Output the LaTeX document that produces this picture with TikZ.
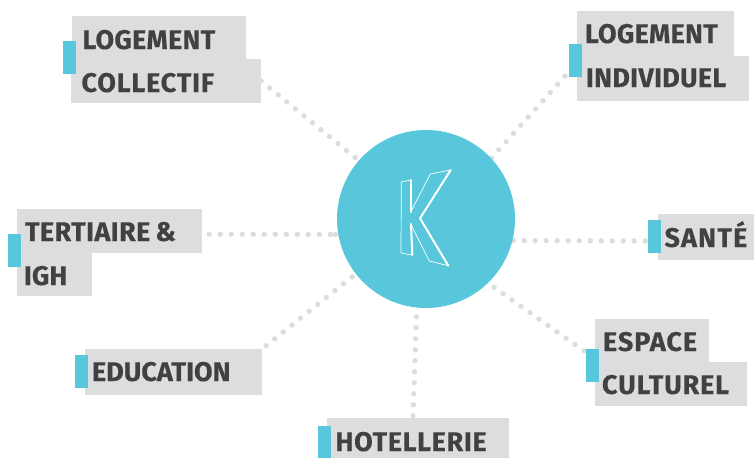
\documentclass[tikz,border=0pt]{standalone}
\usepackage{fontspec}
\setmainfont{Fira Sans}[BoldFeatures={FakeBold=0.2}]
\usetikzlibrary{backgrounds}
\definecolor{teal1}{HTML}{58C7DB}
\definecolor{grey1}{HTML}{DCDDDF}
\definecolor{ink}{HTML}{414042}
\newcommand{\spc}[2]{{\addfontfeature{LetterSpace=#1}#2}}
\tikzset{
  lab/.style={fill=grey1,text=ink,font=\fontsize{27}{27}\selectfont\bfseries,inner ysep=0pt,align=left,text depth=0pt},
  tabn/.style={fill=teal1,minimum width=13pt,minimum height=33pt,inner sep=0pt,outer sep=0pt},
  hubn/.style={circle,fill=teal1,minimum size=178pt,inner sep=0pt,outer sep=0pt},
  dotline/.style={draw=grey1,line width=5.4pt,line cap=round,dash pattern=on 0.01pt off 11pt,dash phase=#1},
  kthick/.style={draw=white,line width=2pt,line cap=round,line join=round},
  kthin/.style={draw=white,line width=0.7pt,line join=round}
}
\begin{document}
\begin{tikzpicture}[x=1pt,y=-1pt]
\useasboundingbox (0,0) rectangle (754,458);
\node[hubn] (hub) at (426,219) {};
% K mark
\draw[kthick] (450.7,170) -- (420,218.3) -- (448.3,265.7);
\draw[kthick] (410.7,180) -- (410.7,212);
\draw[kthick] (411,224) -- (412.3,255);
\draw[kthin] (450.7,170) -- (430.3,174) -- (410.7,212);
\draw[kthin] (410.7,180) -- (401.3,182) -- (401,253) -- (412.3,255);
\draw[kthin] (410.7,224) -- (429.3,261) -- (448.3,265.7);
% labels
\node[lab,minimum width=174pt,minimum height=43pt,inner xsep=10.5pt,text width=153pt,text height=23pt] (lc1) at (159,37.5) {\spc{1}{LOGEMENT}};
\node[lab,minimum width=190pt,minimum height=44pt,inner xsep=10.5pt,text width=169pt,text height=22pt] (lc2) at (166,81) {\spc{3}{COLLECTIF}};
\node[tabn] (lctab) at (69.5,57.5) {};
\node[lab,minimum width=157pt,minimum height=45pt,inner xsep=8pt,text width=141pt,text height=19pt] (li1) at (655.5,33.5) {\spc{1}{LOGEMENT}};
\node[lab,minimum width=172pt,minimum height=45pt,inner xsep=9pt,text width=154pt,text height=17pt] (li2) at (663,78.5) {\spc{1}{INDIVIDUEL}};
\node[tabn] (litab) at (575.5,60.5) {};
\node[lab,minimum width=185pt,minimum height=44pt,inner xsep=8pt,text width=169pt,text height=20pt] (te1) at (109.5,231) {\spc{1.5}{TERTIAIRE}\hspace{5pt}\&};
\node[lab,minimum width=75pt,minimum height=43pt,inner xsep=7pt,text width=61pt,text height=21pt] (te2) at (54.5,274.5) {IGH};
\node[tabn] (tetab) at (14.5,250.5) {};
\node[lab,minimum width=177pt,minimum height=46pt,inner xsep=7pt,text width=163pt,text height=18pt] (ed) at (173.5,372) {EDUCATION};
\node[tabn] (edtab) at (81.5,371.5) {};
\node[lab,minimum width=96pt,minimum height=46pt,inner xsep=6.5pt,text width=83pt,text height=20pt] (sa) at (706,237) {\spc{4.5}{SANTÉ}};
\node[tabn] (satab) at (654.5,236.5) {};
\node[lab,minimum width=114pt,minimum height=43pt,inner xsep=8pt,text width=98pt,text height=21pt] (es1) at (652,340.5) {\spc{3.5}{ESPACE}};
\node[lab,minimum width=152pt,minimum height=44pt,inner xsep=7pt,text width=138pt,text height=20pt] (es2) at (671,384) {\spc{3.2}{CULTUREL}};
\node[tabn] (estab) at (592.5,365.5) {};
\node[lab,minimum width=182pt,minimum height=40pt,inner xsep=8.5pt,text width=165pt,text height=26pt] (ho) at (418,438) {\spc{2.5}{HOTELLERIE}};
\node[tabn,minimum height=32pt] (hotab) at (324.5,442) {};
% connectors
\begin{scope}[on background layer]
\draw[dotline=0pt] (lc2.east) -- (hub.139);
\draw[dotline=5.1pt] (litab.240) -- (hub.43);
\draw[dotline=4pt] (te1.-2) -- (hub.190);
\fill[grey1] ([xshift=-3pt]hub.190) circle[radius=2.7pt];
\draw[dotline=8.3pt] (satab.215) -- (hub.-14);
\draw[dotline=8.6pt] (estab.116) -- (hub.-46);
\draw[dotline=6pt] (ed.north east) -- (hub.218.5);
\draw[dotline=9pt] (ho.104) -- (hub.-96.4);
\end{scope}
\end{tikzpicture}
\end{document}
